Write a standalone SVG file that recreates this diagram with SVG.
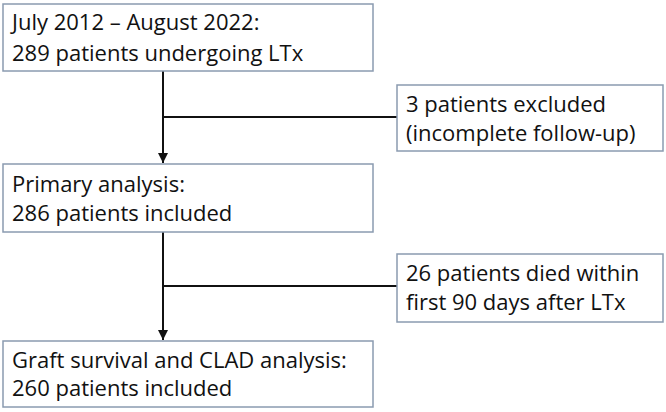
<svg xmlns="http://www.w3.org/2000/svg" width="666" height="412" viewBox="0 0 666 412">
<defs>
<style>
.box{fill:#fff;stroke:#8a9bb0;stroke-width:1.5}
.t{font-family:"Open Sans","Liberation Sans",sans-serif;font-size:22px;fill:#111}
.c{stroke:#111;stroke-width:2;fill:none}
</style>
<marker id="ah" viewBox="0 0 10 10" refX="10" refY="5" markerWidth="5" markerHeight="5" markerUnits="strokeWidth" orient="auto">
<path d="M0,0 L10,5 L0,10 z" fill="#111"/>
</marker>
</defs>
<rect width="666" height="412" fill="#fff"/>
<g id="connectors">
<line class="c" x1="163" y1="71" x2="163" y2="163" marker-end="url(#ah)"/>
<line class="c" x1="163" y1="117" x2="397" y2="117"/>
<line class="c" x1="163" y1="232" x2="163" y2="340" marker-end="url(#ah)"/>
<line class="c" x1="163" y1="286" x2="397" y2="286"/>
</g>
<g id="n1">
<rect class="box" x="3" y="4" width="370" height="67"/>
<text class="t" x="12" y="30">July 2012 – August 2022:</text>
<text class="t" x="12" y="61">289 patients undergoing LTx</text>
</g>
<g id="n2">
<rect class="box" x="397" y="85" width="266" height="66"/>
<text class="t" x="406" y="112">3 patients excluded</text>
<text class="t" x="406" y="141">(incomplete follow-up)</text>
</g>
<g id="n3">
<rect class="box" x="3" y="164" width="370" height="68"/>
<text class="t" x="12" y="192">Primary analysis:</text>
<text class="t" x="12" y="221">286 patients included</text>
</g>
<g id="n4">
<rect class="box" x="397" y="254" width="266" height="68"/>
<text class="t" x="406" y="281">26 patients died within</text>
<text class="t" x="406" y="310">first 90 days after LTx</text>
</g>
<g id="n5">
<rect class="box" x="3" y="341" width="370" height="66"/>
<text class="t" x="12" y="368">Graft survival and CLAD analysis:</text>
<text class="t" x="12" y="396">260 patients included</text>
</g>
</svg>
